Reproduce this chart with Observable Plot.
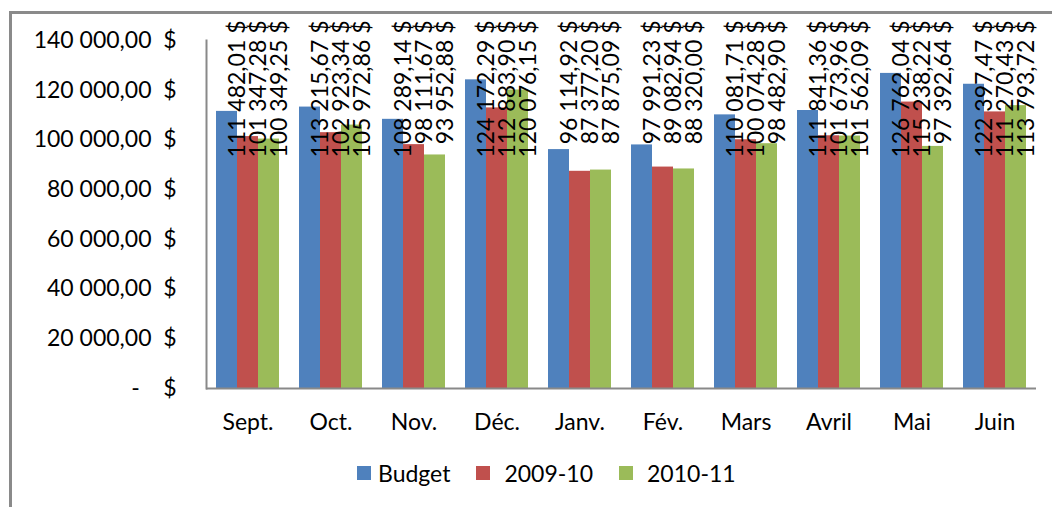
<!DOCTYPE html>
<html>
<head>
<meta charset="utf-8">
<script src="https://cdn.jsdelivr.net/npm/d3@7"></script>
<script src="https://cdn.jsdelivr.net/npm/@observablehq/plot@0.6"></script>
<style>
  html, body { margin: 0; padding: 0; background: #fff; }
  #wrap { position: relative; width: 1055px; height: 507px; overflow: hidden; font-family: Lato, "Open Sans", sans-serif; }
  #border { position: absolute; left: 9px; top: 11px; width: 1043px; height: 500px; border-top: 3px solid #8a8a8a; border-left: 3px solid #8a8a8a; box-sizing: border-box; }
  #chart { position: absolute; left: 0; top: 0; }
  #legend { position: absolute; left: 357px; top: 458px; height: 30px; display: flex; align-items: center; font-size: 23px; color: #000; white-space: nowrap; }
  .sw { width: 14px; height: 14px; display: inline-block; }
  .item { display: flex; align-items: center; margin-right: 26px; }
</style>
</head>
<body>
<div id="wrap">
  <div id="border"></div>
  <div id="chart"></div>
  <div id="legend"></div>
</div>
<script>
const months = ["Sept.", "Oct.", "Nov.", "Déc.", "Janv.", "Fév.", "Mars", "Avril", "Mai", "Juin"];
const seriesNames = ["Budget", "2009-10", "2010-11"];
const colors = ["#4F81BD", "#C0504D", "#9BBB59"];
const budget = [111482.01, 113215.67, 108289.14, 124172.29, 96114.92, 97991.23, 110081.71, 111841.36, 126762.04, 122397.47];
const y2009_10 = [101347.28, 102923.34, 98111.67, 112883.90, 87377.20, 89082.94, 100074.28, 101673.96, 115238.22, 111270.43];
const y2010_11 = [100349.25, 105972.86, 93952.88, 120076.15, 87875.09, 88320.00, 98482.90, 101562.09, 97392.64, 113793.72];
const yTicks = [0, 20000, 40000, 60000, 80000, 100000, 120000, 140000];

const seriesValues = [budget, y2009_10, y2010_11];
const rows = months.flatMap((m, i) => seriesNames.map((s, j) => ({month: m, series: s, value: seriesValues[j][i]})));

const locale = d3.formatLocale({decimal: ",", thousands: " ", grouping: [3], currency: ["", ""]});
const fmt = locale.format(",.2f");

const chart = Plot.plot({
  width: 1055,
  height: 445,
  marginLeft: 205,
  marginRight: 18,
  marginTop: 40,
  marginBottom: 57,
  style: {fontFamily: "Lato, 'Open Sans', sans-serif", color: "#000", background: "transparent"},
  fx: {domain: months, padding: 0, label: null},
  x: {domain: seriesNames, paddingInner: 0, paddingOuter: 0.39, axis: null},
  y: {domain: [0, 140000], label: null},
  color: {domain: seriesNames, range: colors},
  marks: [
    Plot.barY(rows, {fx: "month", x: "series", y: "value", fill: "series"}),
    Plot.ruleY([0], {stroke: "#898989", strokeWidth: 2}),
    Plot.frame({anchor: "left", facetAnchor: "left", stroke: "#898989", strokeWidth: 2}),
    Plot.text(rows, {
      fx: "month", x: "series", frameAnchor: "top",
      text: d => fmt(d.value) + " $",
      rotate: -90, textAnchor: "end", dy: -20, dx: 2,
      fontSize: 23, fill: "#000"
    }),
    Plot.axisY({ticks: yTicks, tickSize: 0, tickPadding: 55, fontSize: 23, label: null,
      tickFormat: d => d === 0 ? "-\u00a0\u00a0" : fmt(d)}),
    Plot.axisY({ticks: yTicks, tickSize: 0, tickPadding: 30, fontSize: 23, label: null,
      tickFormat: () => "$"}),
    Plot.axisFx({anchor: "bottom", tickSize: 0, tickPadding: 25, fontSize: 23, label: null})
  ]
});
document.getElementById("chart").appendChild(chart);

const legend = document.getElementById("legend");
seriesNames.forEach((s, j) => {
  const item = document.createElement("div");
  item.className = "item";
  const sw = document.createElement("span");
  sw.className = "sw";
  sw.style.background = colors[j];
  sw.style.marginRight = (j === 0 ? 7 : 14) + "px";
  const t = document.createElement("span");
  t.textContent = s;
  item.appendChild(sw);
  item.appendChild(t);
  legend.appendChild(item);
});
</script>
</body>
</html>
